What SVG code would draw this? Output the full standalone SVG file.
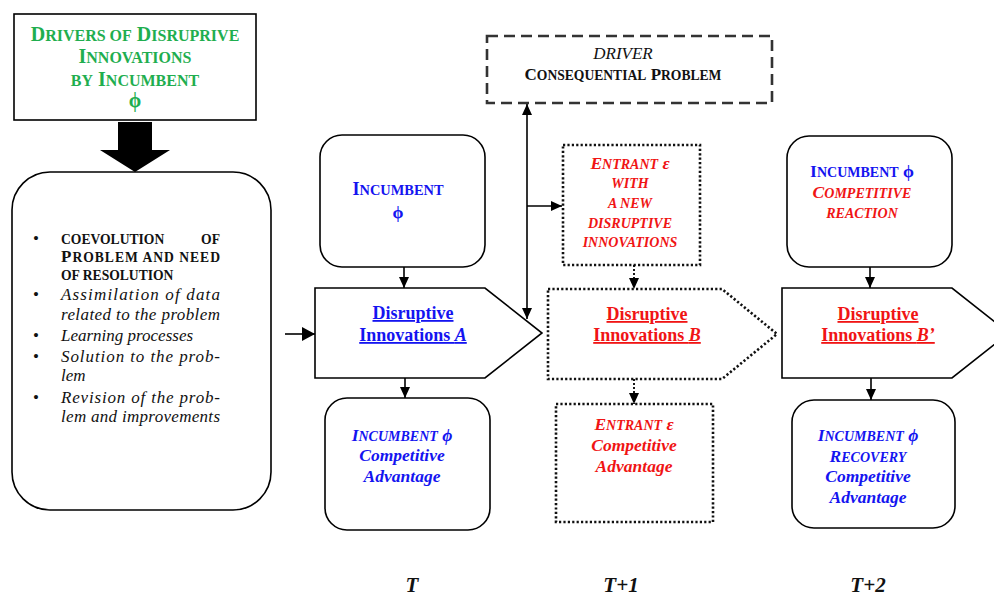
<svg xmlns="http://www.w3.org/2000/svg" width="994" height="599" viewBox="0 0 994 599">
<defs>
<marker id="ah" markerUnits="userSpaceOnUse" markerWidth="12" markerHeight="10" refX="11" refY="5" orient="auto-start-reverse"><path d="M0,0 L11,5 L0,10 z" fill="#000"/></marker>
<marker id="ahb" markerUnits="userSpaceOnUse" markerWidth="14" markerHeight="14" refX="13" refY="7" orient="auto"><path d="M0,0 L13,7 L0,14 z" fill="#000"/></marker>
<style>
text{font-family:"Liberation Serif","Times New Roman",serif;}
.s{font-size:80%;}
.box{fill:#fff;stroke:#000;stroke-width:1.6;}
.dot{fill:#fff;stroke:#111;stroke-width:2.6;stroke-dasharray:2.2 2.2;}
.dash{fill:#fff;stroke:#333;stroke-width:2.6;stroke-dasharray:11 6;}
.c{text-anchor:middle;}
.g{fill:#1fae4f;font-weight:bold;font-size:20px;}
.b{fill:#1414f0;font-weight:bold;font-size:17.5px;}
.r{fill:#f01414;font-weight:bold;font-size:17.5px;}
.p{font-size:18px;}
.k{fill:#111;font-size:17px;}
.t{fill:#111;font-size:21px;font-weight:bold;font-style:italic;text-anchor:middle;}
.i{font-style:italic;}
.u{text-decoration:underline;}
.ln{stroke:#000;stroke-width:1.6;fill:none;}
.lnd{stroke:#000;stroke-width:1.8;fill:none;stroke-dasharray:2 2;}
</style>
</defs>

<g id="drivers">
<rect x="14" y="14" width="242" height="106" class="box"/>
<text class="g c" x="135" y="41">D<tspan class="s">RIVERS OF</tspan> D<tspan class="s">ISRUPRIVE</tspan></text>
<text class="g c" x="135" y="63">I<tspan class="s">NNOVATIONS</tspan></text>
<text class="g c" x="135" y="86"><tspan class="s">BY</tspan> I<tspan class="s">NCUMBENT</tspan></text>
<text class="g c" x="135" y="107">ϕ</text>
</g>

<g id="bigarrow">
<path d="M118,122 L152,122 L152,150 L170,150 L135,172 L100,150 L118,150 Z" fill="#000"/>
</g>

<g id="process">
<rect x="12" y="172" width="259" height="338" rx="38" ry="38" class="box"/>
<g class="k">
<text x="33" y="244">•</text>
<text x="33" y="300">•</text>
<text x="33" y="341">•</text>
<text x="33" y="362">•</text>
<text x="33" y="403">•</text>
</g>
<text class="k" font-weight="bold" x="61" y="244"><tspan class="s">COEVOLUTION</tspan></text>
<text class="k" font-weight="bold" x="220" y="244" text-anchor="end"><tspan class="s">OF</tspan></text>
<text class="k" font-weight="bold" x="61" y="262" textLength="159" lengthAdjust="spacing">P<tspan class="s">ROBLEM AND NEED</tspan></text>
<text class="k" font-weight="bold" x="61" y="280"><tspan class="s">OF RESOLUTION</tspan></text>
<text class="k i" x="61" y="300" textLength="159" lengthAdjust="spacing">Assimilation of data</text>
<text class="k i" x="61" y="320" textLength="159" lengthAdjust="spacing">related to the problem</text>
<text class="k i" x="61" y="341">Learning processes</text>
<text class="k i" x="61" y="362" textLength="159" lengthAdjust="spacing">Solution to the prob-</text>
<text class="k i" x="61" y="381">lem</text>
<text class="k i" x="61" y="403" textLength="159" lengthAdjust="spacing">Revision of the prob-</text>
<text class="k i" x="61" y="422" textLength="159" lengthAdjust="spacing">lem and improvements</text>
</g>

<g id="driver-problem">
<rect x="487" y="36" width="285" height="67" class="dash"/>
<text class="k i c" x="623" y="59">DRIVER</text>
<text class="k c" font-weight="bold" x="623" y="80">C<tspan class="s">ONSEQUENTIAL</tspan> P<tspan class="s">ROBLEM</tspan></text>
</g>

<g id="incumbent-t">
<rect x="320" y="135" width="165" height="132" rx="22" ry="22" class="box"/>
<text class="b p c" x="398" y="195">I<tspan class="s">NCUMBENT</tspan></text>
<text class="b c" x="398" y="218">ϕ</text>
</g>

<g id="innov-a">
<path d="M315,288 L485,288 L542,333 L485,378 L315,378 Z" class="box"/>
<text class="b p c u" x="413" y="319">Disruptive</text>
<text class="b p c u" x="413" y="341">Innovations <tspan class="i">A</tspan></text>
</g>

<g id="advantage-t">
<rect x="325" y="398" width="165" height="132" rx="22" ry="22" class="box"/>
<text class="b i c" x="402" y="441">I<tspan class="s">NCUMBENT</tspan> ϕ</text>
<text class="b i c" x="402" y="461">Competitive</text>
<text class="b i c" x="402" y="482">Advantage</text>
</g>

<g id="entrant">
<rect x="563" y="145" width="137" height="120" class="dot"/>
<text class="r i c" x="630" y="169">E<tspan class="s">NTRANT</tspan> ε</text>
<text class="r i c" x="630" y="188"><tspan class="s">WITH</tspan></text>
<text class="r i c" x="630" y="208"><tspan class="s">A NEW</tspan></text>
<text class="r i c" x="630" y="228"><tspan class="s">DISRUPTIVE</tspan></text>
<text class="r i c" x="630" y="247"><tspan class="s">INNOVATIONS</tspan></text>
</g>

<g id="innov-b">
<path d="M548,289 L722,289 L777,334 L722,379 L548,379 Z" class="dot"/>
<text class="r p c u" x="647" y="320">Disruptive</text>
<text class="r p c u" x="647" y="341">Innovations <tspan class="i">B</tspan></text>
</g>

<g id="advantage-t1">
<rect x="556" y="404" width="157" height="118" class="dot"/>
<text class="r i c" x="634" y="430">E<tspan class="s">NTRANT</tspan> ε</text>
<text class="r i c" x="634" y="451">Competitive</text>
<text class="r i c" x="634" y="472">Advantage</text>
</g>

<g id="incumbent-t2">
<rect x="787" y="136" width="165" height="131" rx="22" ry="22" class="box"/>
<text class="b c" x="862" y="177">I<tspan class="s">NCUMBENT</tspan> ϕ</text>
<text class="r i c" x="862" y="198">C<tspan class="s">OMPETITIVE</tspan></text>
<text class="r i c" x="862" y="218"><tspan class="s">REACTION</tspan></text>
</g>

<g id="innov-b2">
<path d="M782,288 L952,288 L1009,333 L952,378 L782,378 Z" class="box"/>
<text class="r p c u" x="878" y="320">Disruptive</text>
<text class="r p c u" x="878" y="341">Innovations <tspan class="i">B’</tspan></text>
</g>

<g id="advantage-t2">
<rect x="792" y="400" width="163" height="128" rx="22" ry="22" class="box"/>
<text class="b i c" x="868" y="441">I<tspan class="s">NCUMBENT</tspan> ϕ</text>
<text class="b i c" x="868" y="462">R<tspan class="s">ECOVERY</tspan></text>
<text class="b i c" x="868" y="482">Competitive</text>
<text class="b i c" x="868" y="503">Advantage</text>
</g>

<g id="connectors">
<line x1="285" y1="334" x2="315" y2="334" class="ln" stroke-width="4" marker-end="url(#ahb)"/>
<line x1="404" y1="267" x2="404" y2="288" class="ln" marker-end="url(#ah)"/>
<line x1="405" y1="378" x2="405" y2="398" class="ln" marker-end="url(#ah)"/>
<line x1="527" y1="104" x2="527" y2="319" class="ln" marker-start="url(#ah)" marker-end="url(#ah)"/>
<line x1="527" y1="206" x2="562" y2="206" class="ln" marker-end="url(#ah)"/>
<line x1="634" y1="265" x2="634" y2="289" class="lnd" marker-end="url(#ah)"/>
<line x1="634" y1="379" x2="634" y2="404" class="lnd" marker-end="url(#ah)"/>
<line x1="870" y1="267" x2="870" y2="288" class="ln" marker-end="url(#ah)"/>
<line x1="871" y1="378" x2="871" y2="400" class="ln" marker-end="url(#ah)"/>
</g>

<g id="time-labels">
<text class="t" x="412" y="592">T</text>
<text class="t" x="621" y="592">T+1</text>
<text class="t" x="868" y="592">T+2</text>
</g>
</svg>
